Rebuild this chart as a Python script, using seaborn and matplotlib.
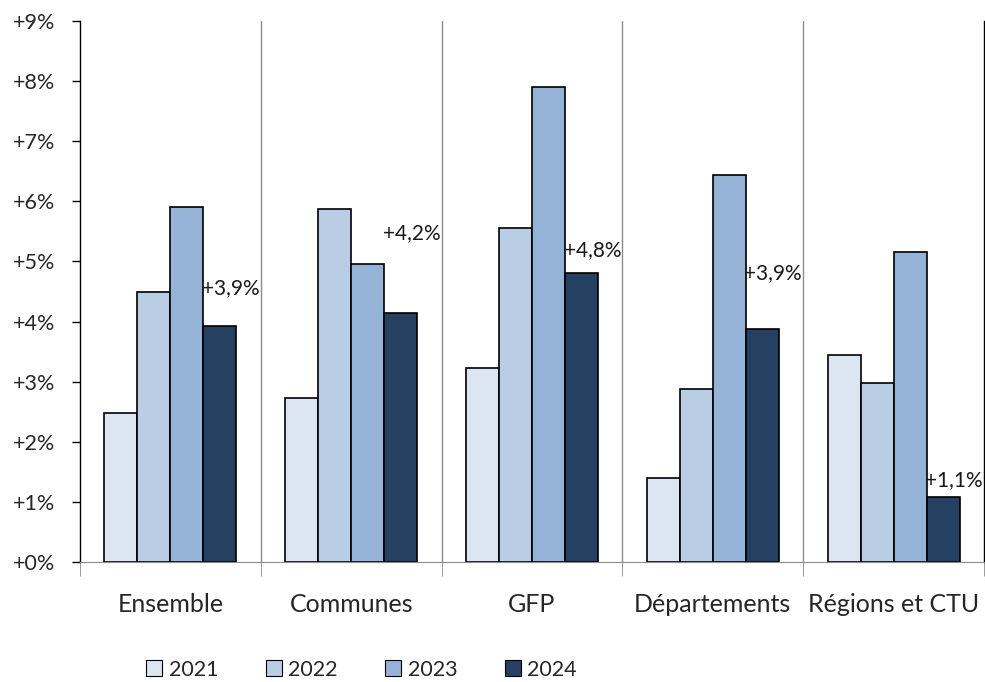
#import libraries
import pandas as pd
import numpy as np
import seaborn as sns
import matplotlib.pyplot as plt
from matplotlib.patches import Patch
from matplotlib.ticker import FuncFormatter

#data
categories=["Ensemble","Communes","GFP","Départements","Régions et CTU"]
years=["2021","2022","2023","2024"]
v2021=[2.48,2.72,3.23,1.40,3.44]
v2022=[4.49,5.87,5.55,2.87,2.97]
v2023=[5.90,4.95,7.90,6.43,5.15]
v2024=[3.92,4.15,4.80,3.87,1.08]
labels_2024=["+3,9%","+4,2%","+4,8%","+3,9%","+1,1%"]
label_y=[4.56,5.47,5.19,4.81,1.36]
colors=["#DCE6F2","#B9CDE5","#95B3D7","#254061"]

df=pd.DataFrame({
    "categorie":categories*4,
    "annee":[y for y in years for _ in categories],
    "valeur":v2021+v2022+v2023+v2024
})

sns.set_style("white")
plt.rcParams['font.family']=['Lato','DejaVu Sans']

fig=plt.figure(figsize=(9.85,6.82),dpi=100)
ax=fig.add_axes([80/985,1-562/682,904/985,541/682])

sns.barplot(
    data=df,
    x="categorie",
    y="valeur",
    hue="annee",
    palette=colors,
    saturation=1,
    width=0.73,
    edgecolor="black",
    linewidth=1.2,
    legend=False,
    ax=ax
)

#labels on 2024 bars
for i,(lab,yl) in enumerate(zip(labels_2024,label_y)):
    ax.text(i+0.175,yl,lab,ha="left",va="center",fontsize=15,color="#1a1a1a")

#category separators
for xs in np.arange(0.5,len(categories)-0.5,1):
    ax.axvline(xs,color="#8c8c8c",lw=1,zorder=0)

ax.set_xlim(-0.5,len(categories)-0.5)
ax.set_ylim(0,9)
ax.set_yticks(range(0,10))
ax.yaxis.set_major_formatter(FuncFormatter(lambda v,p:f"+{int(v)}%"))
ax.tick_params(axis="y",left=True,direction="out",length=6,width=1,color="black",pad=12,labelsize=15.5)
ax.tick_params(axis="x",which="major",length=0,pad=22,labelsize=18)
ax.set_xticks(np.arange(-0.5,len(categories),1),minor=True)
ax.tick_params(axis="x",which="minor",bottom=True,direction="out",length=10,color="#8c8c8c")
ax.set_xlabel("")
ax.set_ylabel("")

for side in ["left","right"]:
    ax.spines[side].set_color("black")
    ax.spines[side].set_linewidth(1)
ax.spines["bottom"].set_color("#8c8c8c")
ax.spines["top"].set_visible(False)

#legend
handles=[Patch(facecolor=c,edgecolor="black",linewidth=0.8,label=y) for c,y in zip(colors,years)]
fig.legend(
    handles=handles,
    loc="center",
    bbox_to_anchor=(0.367,0.018),
    ncol=4,
    frameon=False,
    fontsize=15.5,
    handlelength=0.75,
    handleheight=0.75,
    handletextpad=0.3,
    columnspacing=2.2
)

plt.savefig("out.png",dpi=100)
